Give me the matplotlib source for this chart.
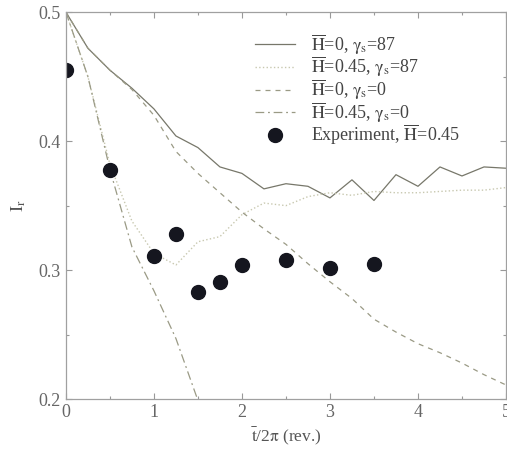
import matplotlib
matplotlib.use("Agg")
import matplotlib.pyplot as plt
from matplotlib.legend_handler import HandlerLine2D
import numpy as np

plt.rcParams['font.family'] = ['Liberation Serif', 'DejaVu Serif']
plt.rcParams['mathtext.fontset'] = 'stix'

# data
x_sim = [0, 0.25, 0.5, 0.75, 1.0, 1.25, 1.5, 1.75, 2.0, 2.25, 2.5, 2.75, 3.0,
         3.25, 3.5, 3.75, 4.0, 4.25, 4.5, 4.75, 5.0]
h0_g87 = [0.5, 0.472, 0.455, 0.441, 0.425, 0.404, 0.395, 0.380, 0.375, 0.363,
          0.367, 0.365, 0.356, 0.370, 0.354, 0.374, 0.365, 0.380, 0.373, 0.380, 0.379]
h045_g87 = [0.5, 0.45, 0.382, 0.338, 0.313, 0.304, 0.322, 0.326, 0.343, 0.352,
            0.350, 0.357, 0.360, 0.358, 0.361, 0.360, 0.360, 0.361, 0.362, 0.362, 0.364]
h0_g0 = [0.5, 0.472, 0.455, 0.44, 0.42, 0.392, 0.375, 0.36, 0.345, 0.332, 0.32,
         0.305, 0.291, 0.278, 0.262, 0.252, 0.243, 0.236, 0.228, 0.219, 0.211]
x_h045_g0 = [0, 0.25, 0.5, 0.75, 1.0, 1.25, 1.5]
h045_g0 = [0.5, 0.45, 0.378, 0.318, 0.284, 0.247, 0.199]
x_exp = [0, 0.5, 1.0, 1.25, 1.5, 1.75, 2.0, 2.5, 3.0, 3.5]
y_exp = [0.455, 0.378, 0.311, 0.328, 0.283, 0.291, 0.304, 0.308, 0.302, 0.305]

labels = [r"$\overline{\mathrm{H}}$=0, $\mathrm{\gamma}_\mathrm{s}$=87",
          r"$\overline{\mathrm{H}}$=0.45, $\mathrm{\gamma}_\mathrm{s}$=87",
          r"$\overline{\mathrm{H}}$=0, $\mathrm{\gamma}_\mathrm{s}$=0",
          r"$\overline{\mathrm{H}}$=0.45, $\mathrm{\gamma}_\mathrm{s}$=0",
          r"Experiment, $\overline{\mathrm{H}}$=0.45"]


class RightMarkerHandler(HandlerLine2D):
    def get_xdata(self, legend, xdescent, ydescent, width, height, fontsize):
        xdata, _ = super().get_xdata(legend, xdescent, ydescent, width, height, fontsize)
        return xdata, [-xdescent + width - 4]


fig = plt.figure(figsize=(5.07, 4.49), dpi=100)
ax = fig.add_axes([0.130, 0.111, 0.868, 0.862])

ax.plot(x_sim, h0_g87, '-', color='#77776a', lw=0.9, label=labels[0])
ax.plot(x_sim, h045_g87, ':', color='#c8c8b0', lw=1.0, label=labels[1])
ax.plot(x_sim, h0_g0, '--', color='#9a9a85', lw=0.9, dashes=(4, 4), label=labels[2])
ax.plot(x_h045_g0, h045_g0, '-.', color='#9a9a85', lw=0.9, dashes=(7, 3, 1.5, 3), label=labels[3])
exp_line, = ax.plot(x_exp, y_exp, 'o', color='#15161f', ms=10, label=labels[4])

ax.set_xlim(0, 5)
ax.set_ylim(0.2, 0.5)
ax.set_xticks([0, 1, 2, 3, 4, 5])
ax.set_xticks(np.arange(0, 5.01, 0.5), minor=True)
ax.set_yticks([0.2, 0.3, 0.4, 0.5])
ax.set_yticks(np.arange(0.2, 0.501, 0.05), minor=True)
ax.tick_params(which='both', direction='in', top=True, right=True, colors='#999999',
               labelcolor='#666666', labelsize=13, width=0.8)
ax.tick_params(which='major', length=4)
ax.tick_params(which='minor', length=2.5)
for s in ax.spines.values():
    s.set_color('#a0a0a0')
    s.set_linewidth(0.9)

ax.set_xlabel(r"$\bar{\mathrm{t}}$/2$\mathrm{\pi}$ (rev.)", fontsize=12.5, color='#555555', labelpad=3)
ax.set_ylabel(r"$\mathrm{I}_\mathrm{r}$", fontsize=13, color='#555555', labelpad=8)

leg = ax.legend(loc='upper right', bbox_to_anchor=(0.932, 0.99), frameon=False,
                fontsize=13, handlelength=2.2, labelspacing=-0.1, handletextpad=0.9,
                labelcolor='#444444', handler_map={exp_line: RightMarkerHandler()})

fig.savefig('out.png', dpi=100)
